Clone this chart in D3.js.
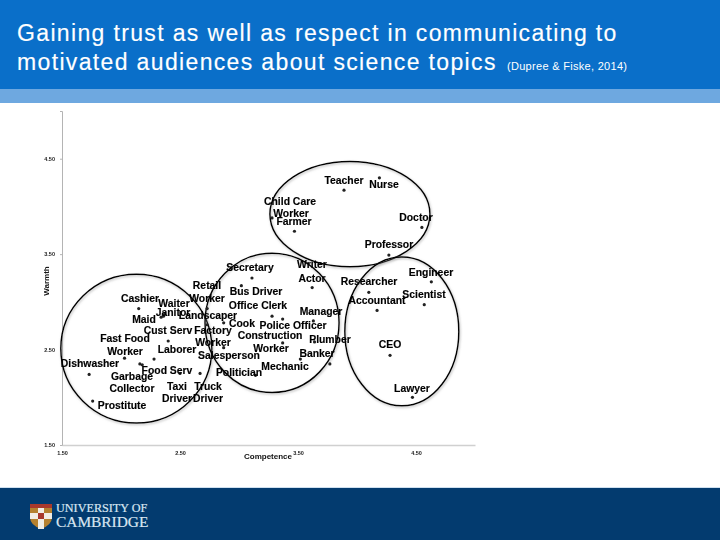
<!DOCTYPE html>
<html>
<head>
<meta charset="utf-8">
<script src="https://cdn.jsdelivr.net/npm/d3@7"></script>
<style>
  html, body { margin: 0; padding: 0; background: #fff; }
  svg { display: block; }
  text { font-family: "Liberation Sans", Arial, sans-serif; }
</style>
</head>
<body>
<div id="chart"></div>
<script>
// occupation points
const occupations = ["Teacher", "Nurse", "Child Care Worker", "Farmer", "Doctor", "Professor", "Writer/Actor",
  "Secretary", "Bus Driver", "Engineer", "Researcher", "Scientist", "Accountant", "Retail Worker", "Cashier",
  "Waiter", "Janitor", "Maid", "Office Clerk", "Police Officer", "Manager", "Cook", "Landscaper", "Cust Serv",
  "Factory Worker", "Construction Worker", "Plumber", "Banker", "Mechanic", "Politician", "CEO", "Lawyer",
  "Fast Food Worker", "Laborer", "Garbage Collector", "Food Serv", "Dishwasher", "Prostitute", "Taxi Driver", "Truck Driver"];
const competence = [3.89, 4.19, 3.28, 3.47, 4.55, 4.27, 3.62, 3.11, 3.02, 4.63, 4.10, 4.57, 4.17, 2.73, 2.15,
  2.36, 2.37, 2.34, 3.28, 3.37, 3.63, 2.87, 2.73, 2.40, 2.87, 3.37, 3.64, 3.77, 3.52, 3.14, 4.28, 4.47,
  2.03, 2.28, 2.16, 2.18, 1.73, 1.76, 2.50, 2.67];
const warmth = [4.17, 4.30, 3.88, 3.74, 3.78, 3.49, 3.15, 3.25, 3.17, 3.21, 3.10, 2.97, 2.91, 2.93, 2.93,
  2.85, 2.87, 2.84, 2.85, 2.82, 2.80, 2.78, 2.76, 2.59, 2.52, 2.57, 2.58, 2.35, 2.40, 2.23, 2.44, 2.00,
  2.41, 2.40, 2.35, 2.34, 2.24, 1.96, 2.25, 2.25];

const tickValues = [1.5, 2.5, 3.5, 4.5];

// the four hand drawn clusters
const clusterCx = [3.94, 2.13, 3.28, 4.38];
const clusterCy = [3.92, 2.51, 2.78, 2.69];
const clusterRx = [0.678, 0.64, 0.568, 0.483];
const clusterRy = [0.552, 0.78, 0.73, 0.78];

// label lines as they sit on the slide: text, centre x, baseline y
const labelLayout = [
  ["Teacher", 344, 184], ["Nurse", 384, 188], ["Child Care", 290, 205], ["Worker", 291, 217], ["Farmer", 294, 225],
  ["Doctor", 416, 221], ["Professor", 389, 248], ["Writer", 312, 268], ["Actor", 312, 282], ["Secretary", 250, 271],
  ["Engineer", 431, 276], ["Researcher", 369, 285], ["Accountant", 377, 304], ["Scientist", 424, 298],
  ["Retail", 207, 289], ["Worker", 207, 302], ["Bus Driver", 256, 295], ["Office Clerk", 258, 309], ["Manager", 321, 315],
  ["Cashier", 140, 302], ["Waiter", 174, 307], ["Janitor", 173, 316], ["Maid", 144, 323], ["Landscaper", 208, 319],
  ["Cook", 242, 327], ["Police Officer", 293, 329], ["Cust Serv", 168, 334], ["Factory", 213, 334], ["Fast Food", 125, 342],
  ["Worker", 125, 355], ["Construction", 270, 339], ["Worker", 213, 346], ["Plumber", 330, 343], ["Laborer", 177, 353],
  ["Worker", 271, 352], ["Salesperson", 229, 359], ["Banker", 317, 357], ["CEO", 390, 348], ["Mechanic", 285, 370],
  ["Dishwasher", 90, 367], ["Food Serv", 167, 374], ["Politician", 239, 376], ["Garbage", 132, 380], ["Collector", 132, 392],
  ["Taxi", 177, 390], ["Truck", 208, 390], ["Driver", 177, 402], ["Driver", 208, 402], ["Prostitute", 122, 409], ["Lawyer", 412, 392]
];

const width = 720, height = 540;
const margin = { top: 111, right: 245, bottom: 95, left: 62 };

const svg = d3.select("#chart").append("svg").attr("width", width).attr("height", height);

const defs = svg.append("defs");
defs.append("filter").attr("id", "soft").append("feGaussianBlur").attr("stdDeviation", 0.3);
defs.append("filter").attr("id", "shadow")
  .attr("x", "-5%").attr("y", "-5%").attr("width", "110%").attr("height", "110%")
  .append("feDropShadow")
  .attr("dx", 0.8).attr("dy", 1.2).attr("stdDeviation", 0.8)
  .attr("flood-color", "#888").attr("flood-opacity", 0.6);

// slide furniture
svg.append("rect").attr("width", width).attr("height", 89).attr("fill", "#0a6fc9");
svg.append("rect").attr("y", 89).attr("width", width).attr("height", 14).attr("fill", "#6ea8e0");
svg.append("rect").attr("y", 487).attr("width", width).attr("height", 1).attr("fill", "#cfe0ef");
svg.append("rect").attr("y", 488).attr("width", width).attr("height", 52).attr("fill", "#033b6f");

const title = svg.append("g").attr("fill", "#fff").style("font-size", "23px").style("letter-spacing", "1.35px")
  .attr("stroke", "#fff").attr("stroke-width", 0.15);
title.append("text").attr("x", 17).attr("y", 41).text("Gaining trust as well as respect in communicating to");
title.append("text").attr("x", 17).attr("y", 70).text("motivated audiences about science topics");
svg.append("text").attr("x", 507).attr("y", 70).attr("fill", "#fff")
  .style("font-size", "11px").style("letter-spacing", "0.3px").text("(Dupree & Fiske, 2014)");

// scales
const x = d3.scaleLinear().domain([1.5, 5]).range([margin.left, width - margin.right]);
const y = d3.scaleLinear().domain([1.5, 5]).range([height - margin.bottom, margin.top]);

const xAxis = svg.append("g").attr("transform", `translate(0,${height - margin.bottom})`)
  .call(d3.axisBottom(x).tickValues(tickValues).tickFormat(d3.format(".2f")).tickSize(0).tickPadding(6));
const yAxis = svg.append("g").attr("transform", `translate(${margin.left},0)`)
  .call(d3.axisLeft(y).tickValues(tickValues).tickFormat(d3.format(".2f")).tickSize(2).tickPadding(5));
[xAxis, yAxis].forEach(a => {
  a.selectAll("path, line").attr("stroke", "#b4b4b4").attr("stroke-width", 1);
  a.selectAll("text").attr("fill", "#222").style("font-size", "5.5px").style("font-weight", "bold")
    .style("font-family", "'Liberation Sans', Arial, sans-serif").attr("filter", "url(#soft)");
});
xAxis.select("path").attr("stroke", "#d0d0d0").attr("stroke-width", 1.5);

svg.append("text").attr("x", 268).attr("y", 459).attr("text-anchor", "middle").attr("filter", "url(#soft)")
  .style("font-size", "8px").style("font-weight", "bold").attr("fill", "#111").text("Competence");
svg.append("text").attr("transform", "translate(49,281) rotate(-90)").attr("text-anchor", "middle").attr("filter", "url(#soft)")
  .style("font-size", "8px").style("font-weight", "bold").attr("fill", "#111").text("Warmth");

// clusters
svg.append("g").selectAll("ellipse").data(clusterCx).join("ellipse")
  .attr("cx", d => x(d))
  .attr("cy", (d, i) => y(clusterCy[i]))
  .attr("rx", (d, i) => x(clusterRx[i]) - x(0))
  .attr("ry", (d, i) => y(0) - y(clusterRy[i]))
  .attr("fill", "none").attr("stroke", "#000").attr("stroke-width", 1.5)
  .attr("filter", "url(#shadow)");

// points
svg.append("g").selectAll("circle").data(occupations).join("circle")
  .attr("cx", (d, i) => x(competence[i]))
  .attr("cy", (d, i) => y(warmth[i]))
  .attr("r", 1.6).attr("fill", "#222");

// labels
svg.append("g").attr("filter", "url(#soft)").selectAll("text").data(labelLayout).join("text")
  .attr("x", d => d[1]).attr("y", d => d[2]).attr("text-anchor", "middle")
  .style("font-size", "10.4px").style("font-weight", "bold").attr("fill", "#000")
  .attr("stroke", "#000").attr("stroke-width", 0.15).text(d => d[0]);

// Cambridge logo
const logo = svg.append("g");
logo.append("path").attr("d", "M30 504H52V517Q52 525 41 529Q30 525 30 517Z").attr("fill", "#b5812f");
logo.append("path").attr("d", "M38 504H44V529H38ZM30 513H52V519H30Z").attr("fill", "#f1ede4");
logo.append("rect").attr("x", 38).attr("y", 513).attr("width", 6).attr("height", 6).attr("fill", "#a8382c");
logo.append("rect").attr("x", 30).attr("y", 504).attr("width", 22).attr("height", 4).attr("fill", "#a8382c");
const logoText = svg.append("g").attr("fill", "#d9e6f2").attr("stroke", "#d9e6f2").attr("stroke-width", 0.2);
logoText.append("text").attr("x", 56).attr("y", 512).style("font-size", "12.2px").style("font-family", "'Liberation Serif', serif").text("UNIVERSITY OF");
logoText.append("text").attr("x", 56).attr("y", 527).style("font-size", "15.4px").style("font-family", "'Liberation Serif', serif").text("CAMBRIDGE");
</script>
</body>
</html>
